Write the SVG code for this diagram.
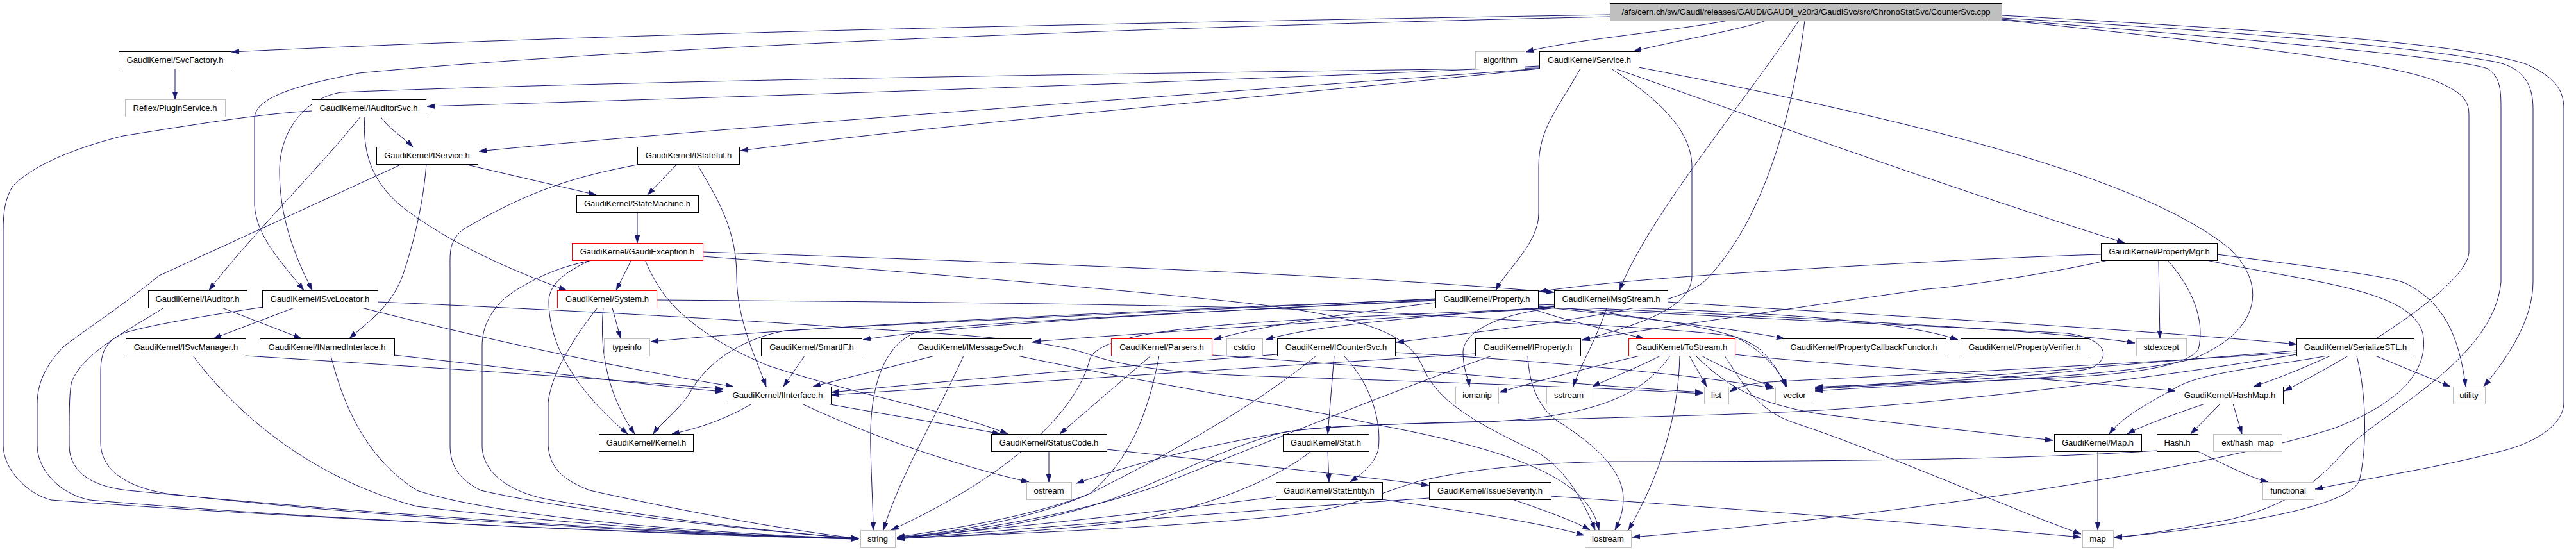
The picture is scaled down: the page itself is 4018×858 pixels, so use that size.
<svg xmlns="http://www.w3.org/2000/svg" width="4018" height="858" viewBox="0 0 4018 858">
<style>
.n rect{fill:#fff;stroke:#000;stroke-width:1}
.x rect{stroke:#bfbfbf}
.r rect{stroke:#ff0000}
.m rect{fill:#bfbfbf}
text{font-family:"Liberation Sans",Arial,Helvetica,sans-serif;font-size:13px;text-anchor:middle;fill:#000}
.e path{fill:none;stroke:#191970;stroke-width:1;marker-end:url(#a)}
</style>
<defs>
<marker id="a" viewBox="0 0 12 8" refX="12" refY="4" markerWidth="12" markerHeight="8" markerUnits="userSpaceOnUse" orient="auto"><path d="M0,0 L12,4 L0,8 z" fill="#191970" stroke="#191970" stroke-width="0.5"/></marker>
</defs>
<rect x="0" y="0" width="4018" height="858" fill="#fff"/>
<g id="edges" class="e">
<path d="M2511,23 C1800,35 1000,50 361,81"/>
<path d="M2511,26 C1800,42 1000,72 560,114 C470,132 397,150 397,185 L397,320 C400,370 440,410 474,453"/>
<path d="M2401,106 C1800,114 1000,125 532,144 C480,152 436,200 436,267 C436,340 460,400 487,453"/>
<path d="M2695,32 C2600,50 2450,62 2380,81"/>
<path d="M2755,32 C2700,50 2620,62 2548,80"/>
<path d="M2806,32 C2720,160 2570,340 2526,453"/>
<path d="M2815,32 C2800,150 2760,330 2667,430 C2630,480 2450,500 2178,534"/>
<path d="M3122,31 C3500,70 3740,100 3800,127 C3845,145 3851,160 3851,180 L3851,393 C3851,440 3700,540 3563,610"/>
<path d="M3122,28 C3600,55 3800,80 3890,96 C3935,105 3951,130 3951,170 L3951,440 C3951,500 3910,560 3874,603"/>
<path d="M3122,24 C3600,50 3850,70 3940,100 C3985,120 3999,140 3999,170 L3999,628 C3999,660 3960,690 3897,705 C3800,730 3700,745 3611,763"/>
<path d="M3122,30 C3550,65 3830,90 3880,107 C3900,120 3901,140 3901,170 L3901,440 C3890,560 3720,640 3660,700 C3610,760 3560,790 3480,810 C3400,825 3340,835 3298,839"/>
<path d="M2401,103 C2000,124 1000,156 666,166"/>
<path d="M2401,107 C2100,130 1100,200 747,236"/>
<path d="M2401,107 C2100,140 1500,190 1155,235"/>
<path d="M2465,107 C2430,170 2400,200 2400,260 L2400,333 C2400,380 2350,420 2333,453"/>
<path d="M2513,107 C2580,150 2639,200 2639,260 L2639,430 C2639,480 2560,505 2468,531"/>
<path d="M2522,108 C2700,170 3000,280 3314,379"/>
<path d="M2556,105 C3000,190 3350,280 3480,390 C3540,450 3520,520 3420,560 C3300,590 3000,598 2831,610"/>
<path d="M486,173 C400,178 300,195 192,212 C140,225 60,250 20,290 C8,310 5,330 5,360 L5,695 C5,730 40,770 80,780 C500,812 1100,835 1340,840"/>
<path d="M563,181 C500,260 380,380 326,453"/>
<path d="M569,181 C565,240 580,290 641,333 C720,390 820,430 884,453"/>
<path d="M593,181 C605,200 630,215 644,229"/>
<path d="M627,256 L248,430 C200,470 140,510 100,540 C70,570 58,600 58,630 L58,695 C58,730 90,770 140,780 C500,812 1100,836 1339,841"/>
<path d="M665,256 C660,320 645,380 628,430 C610,480 570,505 545,528"/>
<path d="M724,256 L930,304"/>
<path d="M1056,256 L1010,304"/>
<path d="M1087,256 C1120,310 1149,360 1149,430 C1149,500 1180,560 1195,603"/>
<path d="M994,257 C900,275 830,295 724,357 C700,375 702,393 702,420 L702,695 C702,730 720,750 750,765 C900,800 1200,830 1339,840"/>
<path d="M994,331 L994,379"/>
<path d="M985,405 L961,453"/>
<path d="M928,405 C880,415 850,425 801,455 C765,480 752,510 752,540 L752,695 C752,740 800,770 860,780 C1000,805 1200,830 1339,840"/>
<path d="M923,405 C890,420 856,440 856,470 C856,540 900,610 979,677"/>
<path d="M941,480 C934,550 950,620 990,677"/>
<path d="M1006,405 C1020,440 1040,470 1070,495 C1110,530 1160,555 1200,571 C1350,620 1480,640 1572,677"/>
<path d="M1096,393 C1600,410 2100,428 2424,456"/>
<path d="M1096,400 C1500,430 1900,465 2000,480 C2150,500 2200,530 2218,570 C2240,620 2280,650 2397,705 C2440,730 2470,780 2488,827"/>
<path d="M1587,555 C1800,600 2000,630 2160,665 C2370,705 2480,750 2494,827"/>
<path d="M3277,397 C3100,402 2800,420 2680,428 C2550,437 2450,447 2401,455"/>
<path d="M3288,406 C3180,430 3050,448 3005,451 C2800,480 2600,510 2468,530"/>
<path d="M3367,406 L3369,528"/>
<path d="M3381,406 C3420,450 3440,500 3429,545 C3410,575 3300,585 3200,590 C3000,598 2900,602 2831,607"/>
<path d="M3442,406 C3600,440 3760,450 3779,520 C3790,580 3740,630 3641,668 C3450,730 3000,800 2546,838"/>
<path d="M3458,397 C3600,415 3720,430 3750,441 C3810,470 3835,520 3846,603"/>
<path d="M2239,466 C2000,478 1400,505 1224,516 C1150,530 1100,570 1077,611 C1060,640 1030,660 1019,677"/>
<path d="M2239,467 C1900,480 1300,505 1015,533"/>
<path d="M2239,468 C1900,485 1500,505 1346,530"/>
<path d="M2239,472 C2100,490 1980,505 1893,530"/>
<path d="M2239,469 C1900,485 1500,505 1440,515 C1380,530 1355,600 1358,700 C1360,770 1362,800 1362,827"/>
<path d="M1503,555 C1460,650 1400,750 1378,827"/>
<path d="M2430,480 C2000,500 1720,505 1700,560 C1680,640 1580,740 1390,827"/>
<path d="M2430,480 C2100,500 1800,518 1612,533"/>
<path d="M2428,478 C2200,495 2050,508 1974,530"/>
<path d="M2428,480 C2330,490 2282,520 2282,550 C2282,575 2290,590 2292,603"/>
<path d="M2506,480 C2490,530 2460,580 2454,603"/>
<path d="M2601,471 C2800,485 3300,510 3582,537"/>
<path d="M2440,480 C2600,500 2720,515 2750,550 C2770,570 2780,590 2785,603"/>
<path d="M2385,480 C2440,500 2510,515 2564,528"/>
<path d="M2399,478 C2550,495 2700,512 2783,528"/>
<path d="M2399,475 C2700,485 2950,495 3054,530"/>
<path d="M2399,477 C2800,495 3200,515 3330,535"/>
<path d="M2399,479 C2800,500 3150,515 3224,520 C3300,530 3290,570 3250,577 C3100,595 2900,600 2831,604"/>
<path d="M2081,555 L2071,677"/>
<path d="M2096,555 C2140,600 2155,660 2150,700 C2145,725 2120,742 2106,752"/>
<path d="M1992,553 C1700,575 1450,597 1297,612"/>
<path d="M2053,555 C1950,640 1800,720 1700,770 C1600,810 1450,830 1399,838"/>
<path d="M2176,550 C2400,562 2650,585 2767,606"/>
<path d="M2071,704 L2073,752"/>
<path d="M2045,704 C2000,740 1900,790 1750,815 C1600,832 1450,838 1399,840"/>
<path d="M1990,775 C1800,800 1550,825 1399,840"/>
<path d="M2155,779 C2300,800 2400,815 2471,835"/>
<path d="M2229,777 C1900,800 1600,825 1399,841"/>
<path d="M2359,779 C2420,800 2460,815 2480,827"/>
<path d="M2419,774 C2800,800 3100,825 3246,838"/>
<path d="M1636,704 L1636,752"/>
<path d="M1726,701 C1900,720 2100,740 2229,757"/>
<path d="M1173,630 C1120,660 1080,670 1048,677"/>
<path d="M1290,630 C1400,650 1500,665 1560,677"/>
<path d="M1251,630 C1400,700 1550,740 1605,752"/>
<path d="M1255,555 L1222,603"/>
<path d="M1458,555 L1268,603"/>
<path d="M615,554 C850,580 1000,600 1128,611"/>
<path d="M516,555 C540,650 580,720 650,765 C800,815 1200,836 1339,840"/>
<path d="M383,555 C700,575 1000,595 1128,607"/>
<path d="M301,555 C380,660 500,750 650,790 C900,820 1200,838 1339,841"/>
<path d="M459,480 L333,528"/>
<path d="M564,480 C800,540 1000,580 1144,603"/>
<path d="M410,479 C340,490 240,505 192,520 C165,532 157,550 157,580 L157,690 C157,735 200,760 260,770 C600,810 1100,835 1339,840"/>
<path d="M589,471 C800,480 1100,495 1320,511 C1500,522 1640,530 1705,555 C1780,580 1900,585 2000,588 C2300,598 2500,605 2656,614"/>
<path d="M346,480 L470,528"/>
<path d="M256,480 C200,515 130,550 112,595 C108,610 108,640 108,695 C108,740 150,760 200,765 C600,805 1100,835 1339,840"/>
<path d="M955,480 L968,528"/>
<path d="M932,480 C900,520 860,580 855,628 L855,695 C857,730 880,750 920,765 C1100,805 1250,830 1339,840"/>
<path d="M1024,468 C1600,472 2000,478 2200,490 C2450,505 2650,515 2705,525 C2740,540 2775,575 2787,603"/>
<path d="M2301,552 C2000,570 1600,597 1297,616"/>
<path d="M2383,555 C2385,600 2400,640 2436,661 C2480,690 2532,730 2532,778 C2532,800 2525,815 2519,827"/>
<path d="M2327,555 C2200,600 2000,680 1800,760 C1650,810 1500,830 1399,839"/>
<path d="M2558,555 C2450,580 2380,600 2339,612"/>
<path d="M2590,555 C2540,580 2500,595 2484,603"/>
<path d="M2635,555 L2662,603"/>
<path d="M2654,555 C2700,580 2740,595 2765,603"/>
<path d="M2620,555 C2618,650 2590,740 2540,827"/>
<path d="M2605,555 C2560,620 2480,650 2320,658 C2150,662 2050,665 2000,675 C1900,700 1800,760 1700,790 C1600,820 1480,835 1399,838"/>
<path d="M2645,555 C2700,610 2750,630 2833,645 C2950,660 3100,675 3202,687"/>
<path d="M2706,553 C2800,565 3200,590 3393,610"/>
<path d="M2690,555 C2720,600 2740,640 2800,660 C2950,710 3150,800 3246,833"/>
<path d="M1795,555 L1653,677"/>
<path d="M1808,555 C1790,650 1760,720 1700,770 C1600,815 1450,835 1399,838"/>
<path d="M1890,554 C2200,575 2450,600 2656,612"/>
<path d="M3705,555 L3822,603"/>
<path d="M3635,555 C3580,580 3540,595 3515,603"/>
<path d="M3630,555 C3550,570 3440,580 3397,603 C3350,630 3310,650 3290,677"/>
<path d="M3676,555 C3692,620 3692,700 3680,750 C3660,800 3400,830 3298,838"/>
<path d="M3582,553 C3300,600 3000,630 2840,640 C2700,648 2550,650 2400,655 C2200,660 2050,665 2000,675 C1850,700 1750,730 1679,754"/>
<path d="M3582,547 C3300,570 3000,595 2831,606"/>
<path d="M3582,550 C3200,575 2900,588 2760,596 C2730,598 2710,604 2698,611"/>
<path d="M3428,704 C3470,725 3510,745 3538,752"/>
<path d="M3364,703 C3150,718 2800,720 2513,720 C2400,722 2300,730 2212,751 C2150,770 2100,795 2000,805 C1800,825 1500,836 1399,840"/>
<path d="M3439,630 C3380,650 3340,665 3318,677"/>
<path d="M3463,630 L3417,677"/>
<path d="M3483,630 L3497,677"/>
<path d="M3272,704 L3272,827"/>
<path d="M273,107 L273,155"/>
</g>
<g id="n_main" class="n m"><rect x="2511.5" y="5.5" width="611" height="27"/><text x="2817" y="23">/afs/cern.ch/sw/Gaudi/releases/GAUDI/GAUDI_v20r3/GaudiSvc/src/ChronoStatSvc/CounterSvc.cpp</text></g>
<g id="n_SvcFactory" class="n"><rect x="185.5" y="80.5" width="175" height="27"/><text x="273" y="98">GaudiKernel/SvcFactory.h</text></g>
<g id="n_algorithm" class="n x"><rect x="2301.5" y="80.5" width="77" height="27"/><text x="2340" y="98">algorithm</text></g>
<g id="n_Service" class="n"><rect x="2401.5" y="80.5" width="155" height="27"/><text x="2479" y="98">GaudiKernel/Service.h</text></g>
<g id="n_PluginService" class="n x"><rect x="195.5" y="155.5" width="156" height="27"/><text x="273" y="173">Reflex/PluginService.h</text></g>
<g id="n_IAuditorSvc" class="n"><rect x="486.5" y="155.5" width="178" height="27"/><text x="575" y="173">GaudiKernel/IAuditorSvc.h</text></g>
<g id="n_IService" class="n"><rect x="587.5" y="229.5" width="158" height="27"/><text x="666" y="247">GaudiKernel/IService.h</text></g>
<g id="n_IStateful" class="n"><rect x="994.5" y="229.5" width="159" height="27"/><text x="1074" y="247">GaudiKernel/IStateful.h</text></g>
<g id="n_StateMachine" class="n"><rect x="899.5" y="304.5" width="190" height="27"/><text x="994" y="322">GaudiKernel/StateMachine.h</text></g>
<g id="n_GaudiException" class="n r"><rect x="892.5" y="379.5" width="204" height="27"/><text x="994" y="397">GaudiKernel/GaudiException.h</text></g>
<g id="n_PropertyMgr" class="n"><rect x="3277.5" y="379.5" width="181" height="27"/><text x="3368" y="397">GaudiKernel/PropertyMgr.h</text></g>
<g id="n_IAuditor" class="n"><rect x="231.5" y="453.5" width="154" height="27"/><text x="308" y="471">GaudiKernel/IAuditor.h</text></g>
<g id="n_ISvcLocator" class="n"><rect x="409.5" y="453.5" width="180" height="27"/><text x="499" y="471">GaudiKernel/ISvcLocator.h</text></g>
<g id="n_System" class="n r"><rect x="869.5" y="453.5" width="155" height="27"/><text x="947" y="471">GaudiKernel/System.h</text></g>
<g id="n_Property" class="n"><rect x="2239.5" y="453.5" width="160" height="27"/><text x="2319" y="471">GaudiKernel/Property.h</text></g>
<g id="n_MsgStream" class="n"><rect x="2424.5" y="453.5" width="177" height="27"/><text x="2513" y="471">GaudiKernel/MsgStream.h</text></g>
<g id="n_ISvcManager" class="n"><rect x="196.5" y="528.5" width="187" height="27"/><text x="290" y="546">GaudiKernel/ISvcManager.h</text></g>
<g id="n_INamedInterface" class="n"><rect x="405.5" y="528.5" width="210" height="27"/><text x="510" y="546">GaudiKernel/INamedInterface.h</text></g>
<g id="n_typeinfo" class="n x"><rect x="942.5" y="528.5" width="71" height="27"/><text x="978" y="546">typeinfo</text></g>
<g id="n_SmartIF" class="n"><rect x="1187.5" y="528.5" width="157" height="27"/><text x="1266" y="546">GaudiKernel/SmartIF.h</text></g>
<g id="n_IMessageSvc" class="n"><rect x="1419.5" y="528.5" width="190" height="27"/><text x="1514" y="546">GaudiKernel/IMessageSvc.h</text></g>
<g id="n_Parsers" class="n r"><rect x="1733.5" y="528.5" width="157" height="27"/><text x="1812" y="546">GaudiKernel/Parsers.h</text></g>
<g id="n_cstdio" class="n x"><rect x="1913.5" y="528.5" width="56" height="27"/><text x="1941" y="546">cstdio</text></g>
<g id="n_ICounterSvc" class="n"><rect x="1992.5" y="528.5" width="184" height="27"/><text x="2084" y="546">GaudiKernel/ICounterSvc.h</text></g>
<g id="n_IProperty" class="n"><rect x="2301.5" y="528.5" width="164" height="27"/><text x="2383" y="546">GaudiKernel/IProperty.h</text></g>
<g id="n_ToStream" class="n r"><rect x="2540.5" y="528.5" width="166" height="27"/><text x="2623" y="546">GaudiKernel/ToStream.h</text></g>
<g id="n_PropertyCallbackFunctor" class="n"><rect x="2779.5" y="528.5" width="256" height="27"/><text x="2907" y="546">GaudiKernel/PropertyCallbackFunctor.h</text></g>
<g id="n_PropertyVerifier" class="n"><rect x="3058.5" y="528.5" width="200" height="27"/><text x="3158" y="546">GaudiKernel/PropertyVerifier.h</text></g>
<g id="n_stdexcept" class="n x"><rect x="3332.5" y="528.5" width="78" height="27"/><text x="3371" y="546">stdexcept</text></g>
<g id="n_SerializeSTL" class="n"><rect x="3582.5" y="528.5" width="183" height="27"/><text x="3674" y="546">GaudiKernel/SerializeSTL.h</text></g>
<g id="n_IInterface" class="n"><rect x="1129.5" y="603.5" width="167" height="27"/><text x="1213" y="621">GaudiKernel/IInterface.h</text></g>
<g id="n_iomanip" class="n x"><rect x="2270.5" y="603.5" width="67" height="27"/><text x="2304" y="621">iomanip</text></g>
<g id="n_sstream" class="n x"><rect x="2412.5" y="603.5" width="69" height="27"/><text x="2447" y="621">sstream</text></g>
<g id="n_list" class="n x"><rect x="2658.5" y="603.5" width="38" height="27"/><text x="2677" y="621">list</text></g>
<g id="n_vector" class="n x"><rect x="2769.5" y="603.5" width="60" height="27"/><text x="2799" y="621">vector</text></g>
<g id="n_HashMap" class="n"><rect x="3395.5" y="603.5" width="166" height="27"/><text x="3478" y="621">GaudiKernel/HashMap.h</text></g>
<g id="n_utility" class="n x"><rect x="3826.5" y="603.5" width="50" height="27"/><text x="3851" y="621">utility</text></g>
<g id="n_Kernel" class="n"><rect x="934.5" y="677.5" width="147" height="27"/><text x="1008" y="695">GaudiKernel/Kernel.h</text></g>
<g id="n_StatusCode" class="n"><rect x="1546.5" y="677.5" width="180" height="27"/><text x="1636" y="695">GaudiKernel/StatusCode.h</text></g>
<g id="n_Stat" class="n"><rect x="2001.5" y="677.5" width="134" height="27"/><text x="2068" y="695">GaudiKernel/Stat.h</text></g>
<g id="n_Map" class="n"><rect x="3204.5" y="677.5" width="136" height="27"/><text x="3272" y="695">GaudiKernel/Map.h</text></g>
<g id="n_Hash" class="n"><rect x="3364.5" y="677.5" width="64" height="27"/><text x="3396" y="695">Hash.h</text></g>
<g id="n_ext_hash_map" class="n x"><rect x="3452.5" y="677.5" width="107" height="27"/><text x="3506" y="695">ext/hash_map</text></g>
<g id="n_ostream" class="n x"><rect x="1601.5" y="752.5" width="70" height="27"/><text x="1636" y="770">ostream</text></g>
<g id="n_StatEntity" class="n"><rect x="1990.5" y="752.5" width="166" height="27"/><text x="2073" y="770">GaudiKernel/StatEntity.h</text></g>
<g id="n_IssueSeverity" class="n"><rect x="2229.5" y="752.5" width="190" height="27"/><text x="2324" y="770">GaudiKernel/IssueSeverity.h</text></g>
<g id="n_functional" class="n x"><rect x="3529.5" y="752.5" width="80" height="27"/><text x="3569" y="770">functional</text></g>
<g id="n_string" class="n x"><rect x="1342.5" y="827.5" width="54" height="27"/><text x="1369" y="845">string</text></g>
<g id="n_iostream" class="n x"><rect x="2472.5" y="827.5" width="72" height="27"/><text x="2508" y="845">iostream</text></g>
<g id="n_map" class="n x"><rect x="3248.5" y="827.5" width="48" height="27"/><text x="3272" y="845">map</text></g>
</svg>
